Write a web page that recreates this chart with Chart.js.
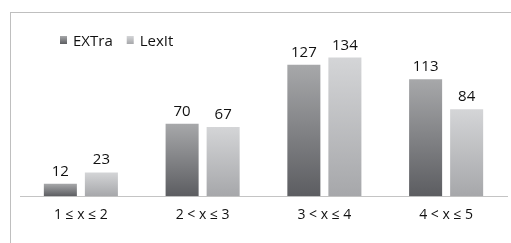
<!DOCTYPE html>
<html>
<head>
<meta charset="utf-8">
<script src="https://cdn.jsdelivr.net/npm/chart.js@4/dist/chart.umd.min.js"></script>
<style>
  html, body { margin: 0; padding: 0; background: #fff; }
  body { width: 511px; height: 243px; position: relative; overflow: hidden; }
  #frame { position: absolute; left: 10px; top: 12px; width: 560px; height: 300px; border: 1px solid #bfbfbf; }
  #wrap { position: absolute; left: 0; top: 0; width: 511px; height: 243px; }
</style>
</head>
<body>
<div id="frame"></div>
<div id="wrap"><canvas id="chart" width="511" height="243"></canvas></div>
<script>
// Data
const categories = ['1 ≤ x ≤ 2', '2 < x ≤ 3', '3 < x ≤ 4', '4 < x ≤ 5'];
const extraValues = [12, 70, 127, 113];
const lexitValues = [23, 67, 134, 84];

const FONT = '"Open Sans", "Liberation Sans", sans-serif';

// gradient per bar, light at the top, dark at the base
function barGradient(light, dark) {
  return function (c) {
    const chart = c.chart;
    if (c.type !== 'data' || !chart.chartArea || !chart.scales.y) return dark;
    const y = chart.scales.y;
    const top = y.getPixelForValue(c.raw);
    const base = y.getPixelForValue(0);
    if (!isFinite(top) || !isFinite(base) || top === base) return dark;
    const g = chart.ctx.createLinearGradient(0, top, 0, base);
    g.addColorStop(0, light);
    g.addColorStop(1, dark);
    return g;
  };
}

const seriesColors = [
  { light: '#a7a8aa', dark: '#5c5d61' },
  { light: '#d4d5d7', dark: '#a6a7aa' }
];

// value labels above bars + legend in the top left
const labelsPlugin = {
  id: 'valueLabels',
  afterDatasetsDraw(chart) {
    const ctx = chart.ctx;
    ctx.save();
    ctx.font = '15px ' + FONT;
    ctx.fillStyle = '#111';
    ctx.textAlign = 'center';
    ctx.textBaseline = 'alphabetic';
    chart.data.datasets.forEach((ds, i) => {
      chart.getDatasetMeta(i).data.forEach((bar, j) => {
        ctx.fillText(ds.data[j], bar.x, bar.y - 8);
      });
    });

    // legend
    let x = 60;
    ctx.textAlign = 'left';
    ctx.textBaseline = 'middle';
    chart.data.datasets.forEach((ds, i) => {
      const g = ctx.createLinearGradient(0, 36, 0, 44);
      g.addColorStop(0, seriesColors[i].light);
      g.addColorStop(1, seriesColors[i].dark);
      ctx.fillStyle = g;
      ctx.fillRect(x, 36, 7, 8);
      ctx.fillStyle = '#111';
      ctx.fillText(ds.label, x + 13, 42);
      x += 13 + ctx.measureText(ds.label).width + 14;
    });
    ctx.restore();
  }
};

new Chart(document.getElementById('chart').getContext('2d'), {
  type: 'bar',
  data: {
    labels: categories,
    datasets: [
      {
        label: 'EXTra',
        data: extraValues,
        backgroundColor: barGradient(seriesColors[0].light, seriesColors[0].dark)
      },
      {
        label: 'LexIt',
        data: lexitValues,
        backgroundColor: barGradient(seriesColors[1].light, seriesColors[1].dark)
      }
    ]
  },
  options: {
    responsive: false,
    animation: false,
    layout: { padding: { left: 20, right: 4, top: 41, bottom: 10 } },
    datasets: {
      bar: { categoryPercentage: 0.674, barPercentage: 0.805 }
    },
    plugins: {
      legend: { display: false },
      tooltip: { enabled: false }
    },
    scales: {
      x: {
        grid: { display: false, drawTicks: false },
        border: { display: true, color: '#c4c4c4', width: 1 },
        ticks: { color: '#111', padding: 10, font: { family: FONT, size: 14 } }
      },
      y: {
        display: false,
        min: 0,
        max: 150
      }
    }
  },
  plugins: [labelsPlugin]
});
</script>
</body>
</html>
